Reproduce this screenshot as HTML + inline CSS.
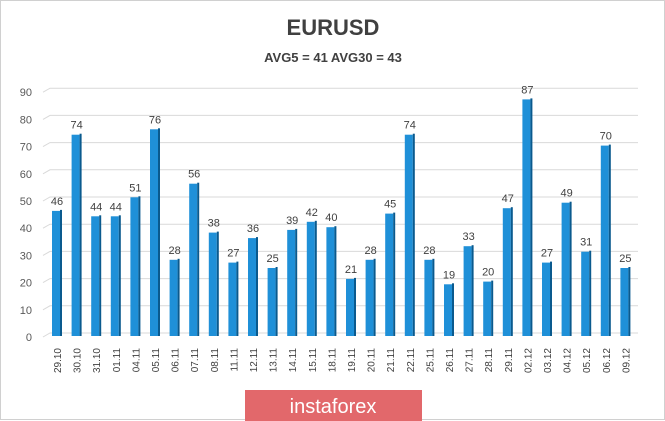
<!DOCTYPE html>
<html><head><meta charset="utf-8"><style>
html,body{margin:0;padding:0;background:#fff;}
svg{display:block;font-family:"Liberation Sans",sans-serif;}
.b{fill:#1f90d8}.s{fill:#0a5a8e}
</style></head><body>
<svg width="665" height="421" viewBox="0 0 665 421">
<rect x="0.5" y="0.5" width="664" height="419" fill="#fff" stroke="#d0d0d0"/>
<text x="333" y="35" text-anchor="middle" font-size="22" font-weight="bold" fill="#404040">EURUSD</text>
<text x="333" y="62" text-anchor="middle" font-size="13" font-weight="bold" fill="#404040">AVG5 = 41 AVG30 = 43</text>
<g stroke="#d9d9d9" stroke-width="1" fill="none">
<polyline points="43,337 50,333 638,333"/>
<polyline points="43,309.8 50,305.8 638,305.8"/>
<polyline points="43,282.6 50,278.6 638,278.6"/>
<polyline points="43,255.4 50,251.4 638,251.4"/>
<polyline points="43,228.2 50,224.2 638,224.2"/>
<polyline points="43,201 50,197 638,197"/>
<polyline points="43,173.8 50,169.8 638,169.8"/>
<polyline points="43,146.6 50,142.6 638,142.6"/>
<polyline points="43,119.4 50,115.4 638,115.4"/>
<polyline points="43,92.2 50,88.2 638,88.2"/>
</g>
<g font-size="11" fill="#595959" text-anchor="end">
<text x="32" y="341">0</text><text x="32" y="313.8">10</text><text x="32" y="286.6">20</text><text x="32" y="259.4">30</text><text x="32" y="232.2">40</text><text x="32" y="205">50</text><text x="32" y="177.8">60</text><text x="32" y="150.6">70</text><text x="32" y="123.4">80</text><text x="32" y="96.2">90</text>
</g>
<g>
<rect class="b" x="52" y="210.9" width="8" height="125.1"/><rect class="s" x="60" y="209.9" width="2" height="126.1"/>
<rect class="b" x="71.6" y="134.7" width="8" height="201.3"/><rect class="s" x="79.6" y="133.7" width="2" height="202.3"/>
<rect class="b" x="91.2" y="216.3" width="8" height="119.7"/><rect class="s" x="99.2" y="215.3" width="2" height="120.7"/>
<rect class="b" x="110.8" y="216.3" width="8" height="119.7"/><rect class="s" x="118.8" y="215.3" width="2" height="120.7"/>
<rect class="b" x="130.4" y="197.3" width="8" height="138.7"/><rect class="s" x="138.4" y="196.3" width="2" height="139.7"/>
<rect class="b" x="150" y="129.3" width="8" height="206.7"/><rect class="s" x="158" y="128.3" width="2" height="207.7"/>
<rect class="b" x="169.6" y="259.8" width="8" height="76.2"/><rect class="s" x="177.6" y="258.8" width="2" height="77.2"/>
<rect class="b" x="189.2" y="183.7" width="8" height="152.3"/><rect class="s" x="197.2" y="182.7" width="2" height="153.3"/>
<rect class="b" x="208.8" y="232.6" width="8" height="103.4"/><rect class="s" x="216.8" y="231.6" width="2" height="104.4"/>
<rect class="b" x="228.4" y="262.6" width="8" height="73.4"/><rect class="s" x="236.4" y="261.6" width="2" height="74.4"/>
<rect class="b" x="248" y="238.1" width="8" height="97.9"/><rect class="s" x="256" y="237.1" width="2" height="98.9"/>
<rect class="b" x="267.6" y="268" width="8" height="68"/><rect class="s" x="275.6" y="267" width="2" height="69"/>
<rect class="b" x="287.2" y="229.9" width="8" height="106.1"/><rect class="s" x="295.2" y="228.9" width="2" height="107.1"/>
<rect class="b" x="306.8" y="221.8" width="8" height="114.2"/><rect class="s" x="314.8" y="220.8" width="2" height="115.2"/>
<rect class="b" x="326.4" y="227.2" width="8" height="108.8"/><rect class="s" x="334.4" y="226.2" width="2" height="109.8"/>
<rect class="b" x="346" y="278.9" width="8" height="57.1"/><rect class="s" x="354" y="277.9" width="2" height="58.1"/>
<rect class="b" x="365.6" y="259.8" width="8" height="76.2"/><rect class="s" x="373.6" y="258.8" width="2" height="77.2"/>
<rect class="b" x="385.2" y="213.6" width="8" height="122.4"/><rect class="s" x="393.2" y="212.6" width="2" height="123.4"/>
<rect class="b" x="404.8" y="134.7" width="8" height="201.3"/><rect class="s" x="412.8" y="133.7" width="2" height="202.3"/>
<rect class="b" x="424.4" y="259.8" width="8" height="76.2"/><rect class="s" x="432.4" y="258.8" width="2" height="77.2"/>
<rect class="b" x="444" y="284.3" width="8" height="51.7"/><rect class="s" x="452" y="283.3" width="2" height="52.7"/>
<rect class="b" x="463.6" y="246.2" width="8" height="89.8"/><rect class="s" x="471.6" y="245.2" width="2" height="90.8"/>
<rect class="b" x="483.2" y="281.6" width="8" height="54.4"/><rect class="s" x="491.2" y="280.6" width="2" height="55.4"/>
<rect class="b" x="502.8" y="208.2" width="8" height="127.8"/><rect class="s" x="510.8" y="207.2" width="2" height="128.8"/>
<rect class="b" x="522.4" y="99.4" width="8" height="236.6"/><rect class="s" x="530.4" y="98.4" width="2" height="237.6"/>
<rect class="b" x="542" y="262.6" width="8" height="73.4"/><rect class="s" x="550" y="261.6" width="2" height="74.4"/>
<rect class="b" x="561.6" y="202.7" width="8" height="133.3"/><rect class="s" x="569.6" y="201.7" width="2" height="134.3"/>
<rect class="b" x="581.2" y="251.7" width="8" height="84.3"/><rect class="s" x="589.2" y="250.7" width="2" height="85.3"/>
<rect class="b" x="600.8" y="145.6" width="8" height="190.4"/><rect class="s" x="608.8" y="144.6" width="2" height="191.4"/>
<rect class="b" x="620.4" y="268" width="8" height="68"/><rect class="s" x="628.4" y="267" width="2" height="69"/>
</g>
<g font-size="11" fill="#404040" text-anchor="middle">
<text x="57" y="204.9">46</text><text x="76.6" y="128.7">74</text><text x="96.2" y="210.3">44</text><text x="115.8" y="210.3">44</text><text x="135.4" y="191.3">51</text><text x="155" y="123.3">76</text><text x="174.6" y="253.8">28</text><text x="194.2" y="177.7">56</text><text x="213.8" y="226.6">38</text><text x="233.4" y="256.6">27</text><text x="253" y="232.1">36</text><text x="272.6" y="262">25</text><text x="292.2" y="223.9">39</text><text x="311.8" y="215.8">42</text><text x="331.4" y="221.2">40</text><text x="351" y="272.9">21</text><text x="370.6" y="253.8">28</text><text x="390.2" y="207.6">45</text><text x="409.8" y="128.7">74</text><text x="429.4" y="253.8">28</text><text x="449" y="278.3">19</text><text x="468.6" y="240.2">33</text><text x="488.2" y="275.6">20</text><text x="507.8" y="202.2">47</text><text x="527.4" y="93.4">87</text><text x="547" y="256.6">27</text><text x="566.6" y="196.7">49</text><text x="586.2" y="245.7">31</text><text x="605.8" y="139.6">70</text><text x="625.4" y="262">25</text>
</g>
<g font-size="10" fill="#404040" text-anchor="end">
<text transform="translate(61,348) rotate(-90)">29.10</text>
<text transform="translate(80.6,348) rotate(-90)">30.10</text>
<text transform="translate(100.2,348) rotate(-90)">31.10</text>
<text transform="translate(119.8,348) rotate(-90)">01.11</text>
<text transform="translate(139.4,348) rotate(-90)">04.11</text>
<text transform="translate(159,348) rotate(-90)">05.11</text>
<text transform="translate(178.6,348) rotate(-90)">06.11</text>
<text transform="translate(198.2,348) rotate(-90)">07.11</text>
<text transform="translate(217.8,348) rotate(-90)">08.11</text>
<text transform="translate(237.4,348) rotate(-90)">11.11</text>
<text transform="translate(257,348) rotate(-90)">12.11</text>
<text transform="translate(276.6,348) rotate(-90)">13.11</text>
<text transform="translate(296.2,348) rotate(-90)">14.11</text>
<text transform="translate(315.8,348) rotate(-90)">15.11</text>
<text transform="translate(335.4,348) rotate(-90)">18.11</text>
<text transform="translate(355,348) rotate(-90)">19.11</text>
<text transform="translate(374.6,348) rotate(-90)">20.11</text>
<text transform="translate(394.2,348) rotate(-90)">21.11</text>
<text transform="translate(413.8,348) rotate(-90)">22.11</text>
<text transform="translate(433.4,348) rotate(-90)">25.11</text>
<text transform="translate(453,348) rotate(-90)">26.11</text>
<text transform="translate(472.6,348) rotate(-90)">27.11</text>
<text transform="translate(492.2,348) rotate(-90)">28.11</text>
<text transform="translate(511.8,348) rotate(-90)">29.11</text>
<text transform="translate(531.4,348) rotate(-90)">02.12</text>
<text transform="translate(551,348) rotate(-90)">03.12</text>
<text transform="translate(570.6,348) rotate(-90)">04.12</text>
<text transform="translate(590.2,348) rotate(-90)">05.12</text>
<text transform="translate(609.8,348) rotate(-90)">06.12</text>
<text transform="translate(629.4,348) rotate(-90)">09.12</text>
</g>
<rect x="245" y="390" width="177" height="31" fill="#e2686b"/>
<text x="333" y="413" text-anchor="middle" font-size="20" fill="#fff">instaforex</text>
</svg>
</body></html>
